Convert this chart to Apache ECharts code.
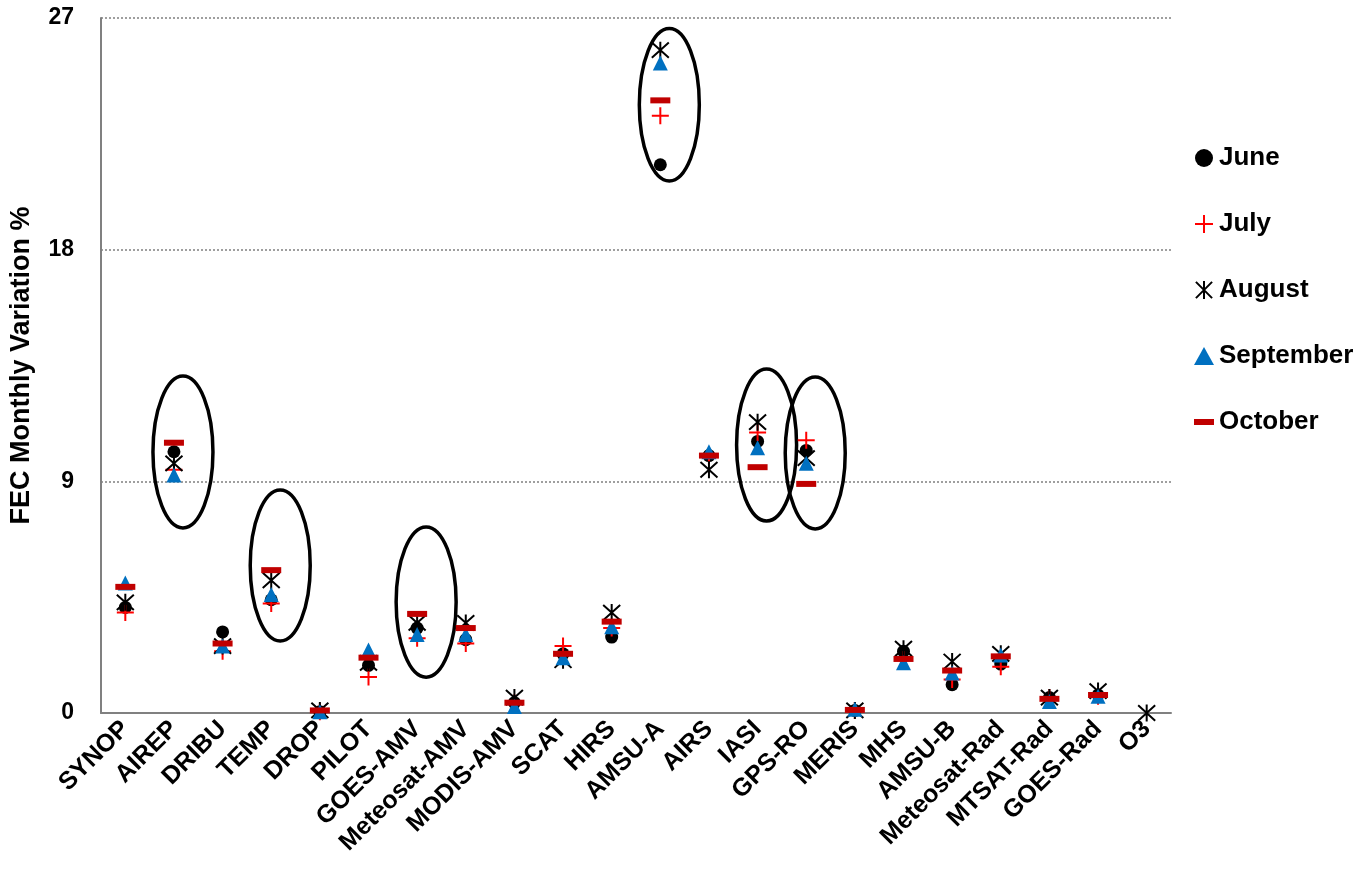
<!DOCTYPE html>
<html>
<head>
<meta charset="utf-8">
<script src="https://cdn.jsdelivr.net/npm/echarts@6/dist/echarts.min.js"></script>
<style>
html,body{margin:0;padding:0;background:#fff;}
#chart{width:1360px;height:875px;}
</style>
</head>
<body>
<div id="chart"></div>
<script>
const categories = ['SYNOP','AIREP','DRIBU','TEMP','DROP','PILOT','GOES-AMV','Meteosat-AMV','MODIS-AMV','SCAT','HIRS','AMSU-A','AIRS','IASI','GPS-RO','MERIS','MHS','AMSU-B','Meteosat-Rad','MTSAT-Rad','GOES-Rad','O3'];
const june      = [4.1, 10.15, 3.15, 4.4, 0.05, 1.85, 3.3, 2.85, 0.4, 2.3, 2.95, 21.3, 10.0, 10.55, 10.2, 0.1, 2.4, 1.1, 1.9, 0.6, 0.7, null];
const july      = [3.9, 9.45, 2.4, 4.25, 0.05, 1.4, 2.9, 2.7, 0.4, 2.6, 3.3, 23.2, 10.0, 10.9, 10.6, 0.1, 2.1, 1.3, 1.8, 0.6, 0.65, null];
const august    = [4.3, 9.7, 2.6, 5.15, 0.1, 1.95, 3.5, 3.5, 0.6, 2.05, 3.9, 25.75, 9.45, 11.3, 9.9, 0.1, 2.5, 2.0, 2.3, 0.6, 0.85, 0];
const september = [5.05, 9.25, 2.6, 4.6, 0.05, 2.45, 3.05, 3.05, 0.25, 2.15, 3.35, 25.25, 10.15, 10.3, 9.7, 0.15, 1.95, 1.55, 2.25, 0.45, 0.65, null];
const october   = [4.9, 10.5, 2.7, 5.55, 0.1, 2.15, 3.85, 3.3, 0.4, 2.3, 3.55, 23.8, 10.0, 9.55, 8.9, 0.12, 2.1, 1.65, 2.2, 0.55, 0.7, null];
const yTicks = [0, 9, 18, 27];
// highlighted groups (ellipses): category, centre value, half height (value units)
const ellipseCats    = ['AIREP','TEMP','GOES-AMV','AMSU-A','IASI','GPS-RO'];
const ellipseCenters = [10.14, 5.73, 4.31, 23.63, 10.41, 10.1];
const ellipseHalf    = [2.95, 2.93, 2.92, 2.96, 2.95, 2.95];

const FONT = "Arial, 'Liberation Sans', sans-serif";
const chart = echarts.init(document.getElementById('chart'), null, {renderer:'canvas'});

const ellipseData = ellipseCats.map((c,i)=>[categories.indexOf(c), ellipseCenters[i], ellipseHalf[i]]);

const plusPath = 'path://M0,10L20,10M10,0L10,20';
const starPath = 'path://M1,1L19,19M19,1L1,19M10,0L10,20';
const barPath  = 'path://M0,0L20,0L20,6L0,6Z';

function sc(name, data, extra){
  return Object.assign({
    name, type:'scatter', data,
    emphasis:{disabled:true}, silent:true
  }, extra);
}

const option = {
  animation:false,
  grid:{left:100, right:189, top:18, bottom:162, containLabel:false},
  legend:{
    orient:'vertical', left:1189, top:140,
    itemWidth:20, itemHeight:18, itemGap:40,
    textStyle:{fontFamily:FONT, fontWeight:'bold', fontSize:26, color:'#000', lineHeight:25},
    data:[
      {name:'June', icon:'circle'},
      {name:'July', icon:plusPath},
      {name:'August', icon:starPath},
      {name:'September', icon:'triangle'},
      {name:'October', icon:barPath}
    ],
    selectedMode:false
  },
  xAxis:{
    type:'category', data:categories, boundaryGap:true,
    axisLine:{lineStyle:{color:'#808080', width:2}},
    axisTick:{show:false},
    axisLabel:{rotate:45, interval:0, margin:12, color:'#000', fontFamily:FONT, fontWeight:'bold', fontSize:25}
  },
  yAxis:{
    type:'value', min:0, max:27, interval:9,
    name:'FEC Monthly Variation %', nameLocation:'middle', nameGap:66,
    nameTextStyle:{fontFamily:FONT, fontWeight:'bold', fontSize:27, color:'#000'},
    axisLine:{show:true, lineStyle:{color:'#808080', width:2}},
    axisTick:{show:false},
    axisLabel:{margin:27, color:'#000', fontFamily:FONT, fontWeight:'bold', fontSize:23,
      formatter:v=> yTicks.includes(v) ? String(v) : ''},
    splitLine:{show:true, lineStyle:{color:'#808080', width:1.5, type:[2,2]}}
  },
  series:[
    sc('June', june, {symbol:'circle', symbolSize:13, itemStyle:{color:'#000', opacity:1}}),
    sc('July', july, {symbol:plusPath, symbolSize:17, itemStyle:{color:'rgba(0,0,0,0)', borderColor:'#FF0000', borderWidth:2, opacity:1}}),
    sc('August', august, {symbol:starPath, symbolSize:17, itemStyle:{color:'rgba(0,0,0,0)', borderColor:'#000', borderWidth:2, opacity:1}}),
    sc('September', september, {symbol:'triangle', symbolSize:15, itemStyle:{color:'#0070C0', opacity:1}}),
    sc('October', october, {symbol:'rect', symbolSize:[20,6], itemStyle:{color:'#C00000', opacity:1}}),
    {
      name:'highlight', type:'custom', silent:true, data:ellipseData, clip:false,
      renderItem:function(params, api){
        const c = api.coord([api.value(0), api.value(1)]);
        const t = api.coord([api.value(0), api.value(1)+api.value(2)]);
        const ry = c[1]-t[1];
        const rx = 30;
        const cx = c[0]+9, cy = c[1];
        const d = 'M'+(cx-rx)+','+cy+' A'+rx+','+ry+' 0 1 0 '+(cx+rx)+','+cy+' A'+rx+','+ry+' 0 1 0 '+(cx-rx)+','+cy+' Z';
        return {type:'path', shape:{pathData:d}, style:{fill:'none', stroke:'#000', lineWidth:3.5}};
      }
    }
  ]
};
chart.setOption(option);
</script>
</body>
</html>
